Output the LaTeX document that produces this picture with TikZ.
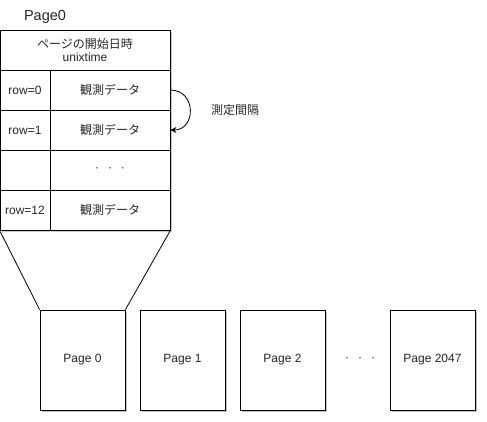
\documentclass[tikz,border=0pt]{standalone}
\usepackage{fontspec}
\setmainfont{Liberation Sans}
\newfontfamily\jpfont{Noto Sans CJK JP}
\usetikzlibrary{shadows,arrows.meta}
\begin{document}
\begin{tikzpicture}[x=1pt,y=-1pt,
  cell/.style={draw=black, line width=0.8pt, inner sep=0pt, align=center, font=\fontsize{12}{13.5}\selectfont, text=black!85},
  pagebox/.style={draw=black, fill=white, line width=0.8pt, minimum width=85pt, minimum height=100pt, inner sep=0pt, font=\fontsize{12}{14}\selectfont, text=black!85,
    drop shadow={shadow xshift=1.5pt, shadow yshift=-2pt, opacity=0.25, fill=black}},
  lbl/.style={font=\fontsize{12}{14}\selectfont, text=black!85}
]
\useasboundingbox (0,0) rectangle (487,422);
% table shadow
\fill[black, opacity=0.2] (1.5,32) rectangle (171.5,232);
\fill[white] (0,30) rectangle (170,230);
\node[lbl, font=\fontsize{14.5}{16}\selectfont] (title) at (45,17) {Page0};
\node[cell, minimum width=170pt, minimum height=40pt] (hdr) at (85,50) {{\jpfont ページの開始日時}\\unixtime};
\node[cell, minimum width=50pt, minimum height=40pt] (k0) at (25,90) {row=0};
\node[cell, minimum width=120pt, minimum height=40pt] (v0) at (110,90) {\jpfont 観測データ};
\node[cell, minimum width=50pt, minimum height=40pt] (k1) at (25,130) {row=1};
\node[cell, minimum width=120pt, minimum height=40pt] (v1) at (110,130) {\jpfont 観測データ};
\node[cell, minimum width=50pt, minimum height=40pt] (k2) at (25,170) {};
\node[cell, minimum width=120pt, minimum height=40pt] (v2) at (110,170) {·\hspace{9pt}·\hspace{9pt}·};
\node[cell, minimum width=50pt, minimum height=40pt] (k3) at (25,210) {row=12};
\node[cell, minimum width=120pt, minimum height=40pt] (v3) at (110,210) {\jpfont 観測データ};
% interval arrow
\draw[line width=0.8pt, -{Stealth[length=6pt,width=6pt]}] (v0.east) .. controls +(26,0) and +(26,0) .. (v1.east);
\node[lbl] (interval) at (235,110) {\jpfont 測定間隔};
% pages
\node[pagebox] (p0) at (82.5,360) {Page 0};
\node[pagebox] (p1) at (182.5,360) {Page 1};
\node[pagebox] (p2) at (282.5,360) {Page 2};
\node[lbl] (pd) at (360,360) {·\hspace{9pt}·\hspace{9pt}·};
\node[pagebox] (p3) at (432.5,360) {Page 2047};
% zoom lines
\draw[line width=0.8pt] (k3.south west) -- (p0.north west);
\draw[line width=0.8pt] (v3.south east) -- (p0.north east);
\end{tikzpicture}
\end{document}
